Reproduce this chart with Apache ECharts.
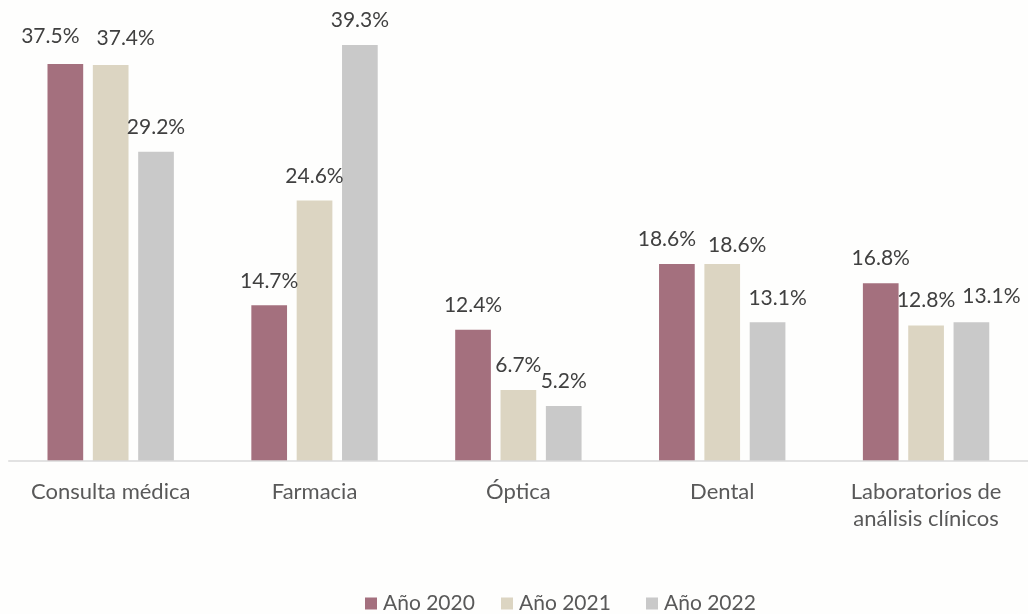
<!DOCTYPE html>
<html>
<head>
<meta charset="utf-8">
<script src="https://cdn.jsdelivr.net/npm/echarts@6/dist/echarts.min.js"></script>
<style>
  html, body { margin: 0; padding: 0; background: #fefefd; }
  #chart { width: 1028px; height: 614px; }
</style>
</head>
<body>
<div id="chart"></div>
<script>
// Categories of health service and share per year (%)
const categories = ['Consulta médica', 'Farmacia', 'Óptica', 'Dental', 'Laboratorios de\nanálisis clínicos'];
const years = ['Año 2020', 'Año 2021', 'Año 2022'];
const values2020 = [37.5, 14.7, 12.4, 18.6, 16.8];
const values2021 = [37.4, 24.6, 6.7, 18.6, 12.8];
const values2022 = [29.2, 39.3, 5.2, 13.1, 13.1];

const colors = ['#a4707e', '#dcd5c2', '#c9c9c9'];

// Small nudges so that crowded value labels do not collide: [series][category] -> [dx, dy]
const labelNudge = [
  { 0: [-15, -3], 3: [-10, 0] },
  { 0: [15, -2], 3: [15, 6], 4: [0, -1] },
  { 3: [10, 0], 4: [20, -2] }
];

const FONT = 'Lato, "Open Sans", sans-serif';

function buildSeries(name, values, idx) {
  return {
    name: name,
    type: 'bar',
    barWidth: 35.7,
    barGap: '27%',
    itemStyle: { color: colors[idx] },
    label: {
      show: true,
      position: 'top',
      distance: 14,
      color: '#404040',
      fontFamily: FONT,
      fontSize: 21,
      lineHeight: 21,
      formatter: p => p.value.toFixed(1) + '%'
    },
    data: values.map((v, i) => {
      const n = labelNudge[idx][i];
      return n ? { value: v, label: { offset: n } } : v;
    })
  };
}

const legendLefts = [365, 501, 646];

const chart = echarts.init(document.getElementById('chart'), null, { renderer: 'canvas' });
chart.setOption({
  backgroundColor: '#fefefd',
  animation: false,
  grid: { left: 8.76, right: -10.1, top: 37.5, bottom: 153, containLabel: false },
  xAxis: {
    type: 'category',
    data: categories,
    axisLine: { show: true, lineStyle: { color: '#d9d9d9', width: 1.5 } },
    axisTick: { show: false },
    axisLabel: {
      color: '#595959',
      fontFamily: FONT,
      fontSize: 22,
      lineHeight: 27,
      margin: 17,
      interval: 0
    },
    z: 5
  },
  yAxis: {
    type: 'value',
    min: 0,
    max: 40,
    show: false,
    splitLine: { show: false }
  },
  legend: years.map((y, i) => ({
    data: [y],
    left: legendLefts[i],
    top: 593,
    padding: 0,
    itemWidth: 12,
    itemHeight: 12,
    icon: 'rect',
    textStyle: { color: '#595959', fontFamily: FONT, fontSize: 21, padding: [0, 0, 0, 1] }
  })),
  series: [
    buildSeries(years[0], values2020, 0),
    buildSeries(years[1], values2021, 1),
    buildSeries(years[2], values2022, 2)
  ]
});
</script>
</body>
</html>
